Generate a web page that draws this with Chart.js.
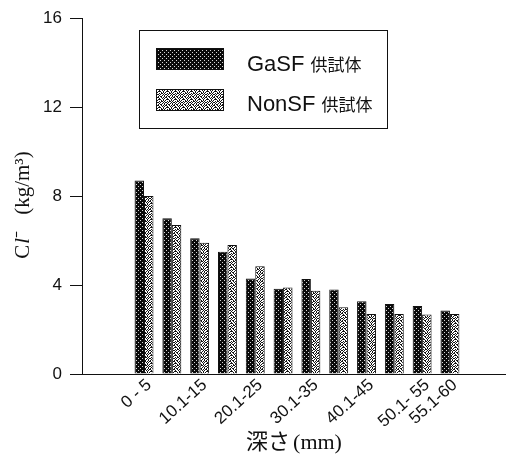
<!DOCTYPE html>
<html>
<head>
<meta charset="utf-8">
<script src="https://cdn.jsdelivr.net/npm/chart.js@4/dist/chart.umd.min.js"></script>
<style>
  html, body { margin: 0; padding: 0; background: #fff; }
  canvas { display: block; }
</style>
</head>
<body>
<canvas id="c" width="506" height="456"></canvas>
<script>
// Depth ranges (mm) and chloride content Cl- (kg/m3) per specimen type
const categories = ['0 - 5', '5.1-10', '10.1-15', '15.1-20', '20.1-25', '25.1-30',
                    '30.1-35', '35.1-40', '40.1-45', '45.1-50', '50.1- 55', '55.1-60'];
const tickLabels = ['0 - 5', '', '10.1-15', '', '20.1-25', '',
                    '30.1-35', '', '40.1-45', '', '50.1- 55', '55.1-60'];
const gasf  = [8.7, 7.0, 6.1, 5.5, 4.3, 3.83, 4.27, 3.8, 3.27, 3.15, 3.06, 2.86];
const nonsf = [8.0, 6.7, 5.9, 5.8, 4.85, 3.89, 3.74, 3.0, 2.7, 2.7, 2.68, 2.7];
const seriesNames = ['GaSF 供試体', 'NonSF 供試体'];
const yTicks = [0, 4, 8, 12, 16];

const canvas = document.getElementById('c');
const ctx = canvas.getContext('2d');

// Stipple fills for the two bar types
function makePattern(size, bg, fg, dots) {
  const tile = document.createElement('canvas');
  tile.width = tile.height = size;
  const g = tile.getContext('2d');
  g.fillStyle = bg;
  g.fillRect(0, 0, size, size);
  g.fillStyle = fg;
  dots.forEach(([x, y]) => g.fillRect(x, y, 1, 1));
  return ctx.createPattern(tile, 'repeat');
}
const darkFill = makePattern(4, '#0a0a0a', '#d8d8d8', [[0, 0], [2, 2]]);
const lightFill = makePattern(8, '#ffffff', '#141414', [
  [0, 0], [1, 0], [4, 0], [6, 0], [1, 1], [3, 1], [5, 1], [6, 1], [2, 2], [4, 2], [7, 2],
  [0, 3], [3, 3], [6, 3], [7, 3], [1, 4], [3, 4], [5, 4], [1, 5], [2, 5], [4, 5], [7, 5],
  [0, 6], [3, 6], [5, 6], [6, 6], [2, 7], [4, 7], [7, 7]
]);

const toPoints = arr => arr.map((v, i) => ({ x: i, y: v }));

// Boxed legend inside the plot and the two axis titles
const decorations = {
  id: 'decorations',
  afterDraw(chart) {
    const c = chart.ctx;
    c.save();
    // legend frame
    c.strokeStyle = '#111';
    c.lineWidth = 1;
    c.strokeRect(139.5, 30.5, 248, 98);
    const rows = [{ y: 48, base: 71, fill: darkFill }, { y: 89, base: 111, fill: lightFill }];
    chart.data.datasets.forEach((ds, i) => {
      const r = rows[i];
      c.fillStyle = r.fill;
      c.fillRect(156, r.y, 68, 22);
      c.strokeStyle = '#111';
      c.strokeRect(156.5, r.y + 0.5, 67, 21);
      const [latin, jp] = ds.label.split(' ');
      c.fillStyle = '#111';
      c.textBaseline = 'alphabetic';
      c.textAlign = 'left';
      c.font = '22px "Liberation Sans", Arial, sans-serif';
      c.fillText(latin, 247, r.base);
      const w = c.measureText(latin).width;
      c.font = '17px "Noto Sans CJK JP", sans-serif';
      c.fillText(jp, 247 + w + 6, r.base);
    });

    // y-axis title: Cl⁻ (kg/m³)
    c.save();
    c.translate(29, 205);
    c.rotate(-Math.PI / 2);
    const serif = '"Liberation Serif", serif';
    const parts = [
      { t: 'C', f: '21px ' + serif, gap: 0 },
      { t: 'l', f: 'italic 21px ' + serif, gap: 1 },
      { t: '⁻', f: '21px ' + serif, gap: 0 },
      { t: '(kg/m³)', f: '21px ' + serif, gap: 16 }
    ];
    let total = 0;
    parts.forEach(p => { c.font = p.f; p.w = c.measureText(p.t).width; total += p.w + p.gap; });
    let x = -total / 2;
    c.textBaseline = 'alphabetic';
    c.textAlign = 'left';
    parts.forEach(p => { x += p.gap; c.font = p.f; c.fillText(p.t, x, 0); x += p.w; });
    c.restore();

    // x-axis title: 深さ (mm)
    c.textBaseline = 'alphabetic';
    c.textAlign = 'left';
    c.font = '22px "Noto Sans CJK JP", sans-serif';
    const a = '深さ';
    const aw = c.measureText(a).width;
    c.font = '22px "Liberation Serif", serif';
    const b = '(mm)';
    const bw = c.measureText(b).width;
    const sx = 294 - (aw + 3 + bw) / 2;
    c.font = '22px "Noto Sans CJK JP", sans-serif';
    c.fillText(a, sx, 449);
    c.font = '22px "Liberation Serif", serif';
    c.fillText(b, sx + aw + 3, 449);
    c.restore();
  }
};

new Chart(canvas, {
  type: 'bar',
  data: {
    datasets: [
      { label: seriesNames[0], data: toPoints(gasf), backgroundColor: darkFill,
        borderColor: '#111', borderWidth: 1 },
      { label: seriesNames[1], data: toPoints(nonsf), backgroundColor: lightFill,
        borderColor: '#111', borderWidth: 1 }
    ]
  },
  options: {
    responsive: false,
    animation: false,
    events: [],
    layout: { padding: { top: 12, right: 1, left: 0, bottom: 0 } },
    categoryPercentage: 0.68,
    barPercentage: 1.0,
    plugins: { legend: { display: false }, tooltip: { enabled: false } },
    scales: {
      x: {
        type: 'linear',
        offset: false,
        min: -2.23,
        max: 12.98,
        afterBuildTicks: s => { s.ticks = categories.map((_, i) => ({ value: i })); },
        afterFit: s => { s.height = 82; },
        grid: { display: false, drawTicks: false, offset: false },
        border: { display: true, color: '#111', width: 1 },
        ticks: {
          autoSkip: false,
          minRotation: 42,
          maxRotation: 42,
          padding: 1,
          labelOffset: 5,
          color: '#111',
          font: { family: '"Liberation Sans", Arial, sans-serif', size: 17 },
          callback: (v, i) => tickLabels[i]
        }
      },
      y: {
        min: 0,
        max: 16,
        afterBuildTicks: s => { s.ticks = yTicks.map(v => ({ value: v })); },
        afterFit: s => { s.width = 82; },
        grid: { display: true, drawOnChartArea: false, drawTicks: true, tickLength: 12,
                color: '#111', lineWidth: 1 },
        border: { display: true, color: '#111', width: 1 },
        ticks: {
          padding: 8,
          color: '#111',
          font: { family: '"Liberation Sans", Arial, sans-serif', size: 17 }
        }
      }
    }
  },
  plugins: [decorations]
});
</script>
</body>
</html>
